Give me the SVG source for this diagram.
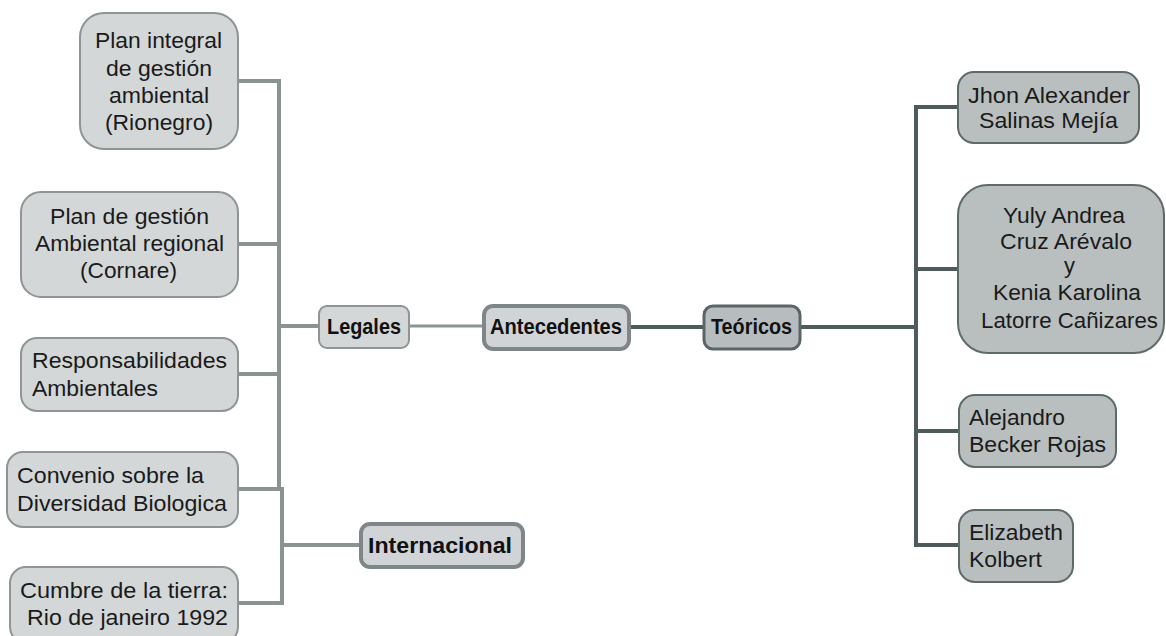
<svg xmlns="http://www.w3.org/2000/svg" width="1166" height="636" viewBox="0 0 1166 636">
<style>
text{font-family:"Liberation Sans",Arial,sans-serif;fill:#1a1a1a}
.t{font-size:22px}
.b{font-size:22px;font-weight:bold;fill:#111}
.ln{fill:#d3d7d7;stroke:#8e9594;stroke-width:2}
.rn{fill:#b9bfbf;stroke:#5f6a6a;stroke-width:2}
.mn{fill:#d0d4d6;stroke:#7e8688;stroke-width:4}
.cl{fill:none;stroke:#89938f;stroke-width:4}
.cr{fill:none;stroke:#4d5b5b;stroke-width:4}
</style>
<g id="connectors">
<path class="cl" d="M238 81H279V489M238 244H279M238 374H279M238 489H282V603H238M279 326H318M282 545H360"/>
<path d="M409 326H482" fill="none" stroke="#8a9592" stroke-width="3"/>
<path class="cr" d="M630 327H703"/>
<path class="cr" d="M800 327H916M958 107H916V545H959M916 269H958M916 431H959"/>
</g>
<g id="n-plan-integral">
<rect class="ln" x="80" y="13" width="158" height="136" rx="24"/>
<text class="t" x="95" y="48" textLength="127" lengthAdjust="spacingAndGlyphs">Plan integral</text>
<text class="t" x="106" y="76" textLength="106" lengthAdjust="spacingAndGlyphs">de gestión</text>
<text class="t" x="109" y="103" textLength="100" lengthAdjust="spacingAndGlyphs">ambiental</text>
<text class="t" x="105" y="130" textLength="108" lengthAdjust="spacingAndGlyphs">(Rionegro)</text>
</g>
<g id="n-plan-gestion">
<rect class="ln" x="21" y="192" width="217" height="105" rx="20"/>
<text class="t" x="50" y="224" textLength="159" lengthAdjust="spacingAndGlyphs">Plan de gestión</text>
<text class="t" x="35" y="251" textLength="189" lengthAdjust="spacingAndGlyphs">Ambiental regional</text>
<text class="t" x="80" y="278" textLength="97" lengthAdjust="spacingAndGlyphs">(Cornare)</text>
</g>
<g id="n-responsabilidades">
<rect class="ln" x="21" y="338" width="217" height="73" rx="16"/>
<text class="t" x="32" y="368" textLength="195" lengthAdjust="spacingAndGlyphs">Responsabilidades</text>
<text class="t" x="32" y="396" textLength="126" lengthAdjust="spacingAndGlyphs">Ambientales</text>
</g>
<g id="n-convenio">
<rect class="ln" x="7" y="452" width="231" height="75" rx="16"/>
<text class="t" x="17" y="483" textLength="187" lengthAdjust="spacingAndGlyphs">Convenio sobre la</text>
<text class="t" x="17" y="511" textLength="210" lengthAdjust="spacingAndGlyphs">Diversidad Biologica</text>
</g>
<g id="n-cumbre">
<rect class="ln" x="10" y="567" width="228" height="76" rx="16"/>
<text class="t" x="20" y="598" textLength="208" lengthAdjust="spacingAndGlyphs">Cumbre de la tierra:</text>
<text class="t" x="27" y="625" textLength="201" lengthAdjust="spacingAndGlyphs">Rio de janeiro 1992</text>
</g>
<g id="n-legales">
<rect class="ln" x="319" y="306" width="90" height="42" rx="8" stroke-width="3"/>
<text class="b" x="327" y="334" textLength="74" lengthAdjust="spacingAndGlyphs">Legales</text>
</g>
<g id="n-antecedentes">
<rect class="mn" x="484" y="306" width="145" height="43" rx="9"/>
<text class="b" x="490" y="334" textLength="132" lengthAdjust="spacingAndGlyphs">Antecedentes</text>
</g>
<g id="n-teoricos">
<rect x="704" y="306" width="96" height="43" rx="9" fill="#b7bdbe" stroke="#5a6566" stroke-width="3"/>
<text class="b" x="711" y="334" textLength="81" lengthAdjust="spacingAndGlyphs">Teóricos</text>
</g>
<g id="n-internacional">
<rect class="mn" x="361" y="524" width="162" height="43" rx="9"/>
<text class="b" x="368" y="553" textLength="144" lengthAdjust="spacingAndGlyphs">Internacional</text>
</g>
<g id="n-jhon">
<rect class="rn" x="958" y="72" width="181" height="71" rx="16"/>
<text class="t" x="968" y="103" textLength="162" lengthAdjust="spacingAndGlyphs">Jhon Alexander</text>
<text class="t" x="979" y="128" textLength="139" lengthAdjust="spacingAndGlyphs">Salinas Mejía</text>
</g>
<g id="n-yuly">
<rect class="rn" x="958" y="185" width="206" height="168" rx="30"/>
<text class="t" x="1003" y="223" textLength="122" lengthAdjust="spacingAndGlyphs">Yuly Andrea</text>
<text class="t" x="1000" y="249" textLength="132" lengthAdjust="spacingAndGlyphs">Cruz Arévalo</text>
<text class="t" x="1064" y="273">y</text>
<text class="t" x="993" y="300" textLength="148" lengthAdjust="spacingAndGlyphs">Kenia Karolina</text>
<text class="t" x="981" y="328" textLength="177" lengthAdjust="spacingAndGlyphs">Latorre Cañizares</text>
</g>
<g id="n-alejandro">
<rect class="rn" x="959" y="395" width="157" height="72" rx="16"/>
<text class="t" x="969" y="425" textLength="96" lengthAdjust="spacingAndGlyphs">Alejandro</text>
<text class="t" x="969" y="452" textLength="137" lengthAdjust="spacingAndGlyphs">Becker Rojas</text>
</g>
<g id="n-elizabeth">
<rect class="rn" x="959" y="510" width="114" height="72" rx="16"/>
<text class="t" x="969" y="540" textLength="94" lengthAdjust="spacingAndGlyphs">Elizabeth</text>
<text class="t" x="969" y="567" textLength="73" lengthAdjust="spacingAndGlyphs">Kolbert</text>
</g>
</svg>
